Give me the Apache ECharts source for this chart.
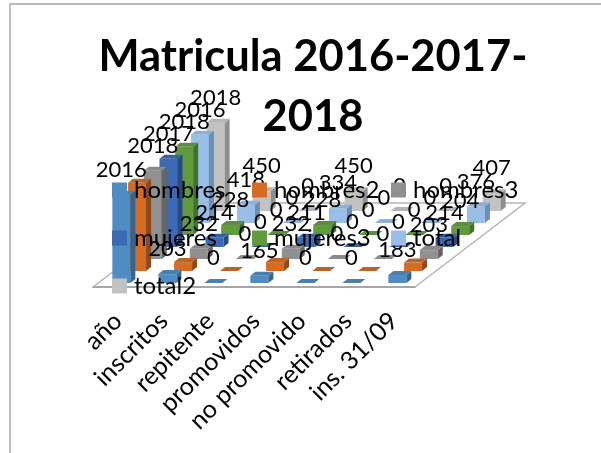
<!DOCTYPE html>
<html><head><meta charset="utf-8">
<script src="https://cdn.jsdelivr.net/npm/echarts@6/dist/echarts.min.js"></script>
<style>html,body{margin:0;padding:0;background:#fff}#c{width:601px;height:453px}</style></head>
<body><div id="c"></div>
<script>
const categories = ['año','inscritos','repitente','promovidos','no promovido','retirados','ins. 31/09'];
const hombres  = [2016,203,0,165,0,0,183];
const hombres2 = [2016,204,0,204,0,0,193];
const hombres3 = [2018,232,0,232,0,0,203];
const mujeres  = [2017,214,0,211,0,0,214];
const mujeres3 = [2018,228,0,228,0,0,204];
const total    = [2016,418,0,334,0,0,376];
const total2   = [2018,450,0,450,0,0,407];
const seriesNames = ['hombres','hombres2','hombres3','mujeres','mujeres3','total','total2'];
const seriesValues = [hombres,hombres2,hombres3,mujeres,mujeres3,total,total2];
const showLabels = [true,false,true,true,true,true,true];
const front = ['#4f8cc4','#d56c25','#909090','#3b69b4','#609c3d','#99bee8','#c2c2c2'];
const side  = ['#34648f','#8f4a1b','#666666','#284a80','#43702b','#6d8fb5','#8e8e8e'];
const top_  = ['#4a7fae','#b8652a','#8a8a8a','#3b619f','#5d8e3f','#8eb0d6','#b4b4b4'];
const legendSpots = [[112,178],[252,178],[391,178],[112,226],[252,226],[391,226],[112,274]];

const STEP_X = 110/7, STEP_Y = 84/7, W = 18, SX = 5, SY = 4;
function poly(points, fill, z2){ return {type:'polygon', z2, shape:{points}, style:{fill, stroke:null}}; }

const series = seriesNames.map((name,s)=>({
  type:'custom', name, coordinateSystem:'cartesian2d', clip:false, silent:true,
  itemStyle:{color:front[s]},
  encode:{x:0,y:1},
  data: seriesValues[s].map((v,i)=>[i,v]),
  renderItem(params,api){
    const i=api.value(0), v=api.value(1);
    const base=api.coord([i,0]), top=api.coord([i,v]);
    const h=base[1]-top[1];
    const dx=STEP_X*(s+.5), dy=STEP_Y*(s+.5);
    const cx=base[0]+dx-SX/2, by=base[1]-dy+SY/2;
    const l=cx-W/2, r=cx+W/2, ty=by-h;
    const z=10+(7-s)*2;
    const kids=[];
    if(h>1){
      kids.push(poly([[l,by],[r,by],[r,ty],[l,ty]],front[s],z));
      kids.push(poly([[r,by],[r+SX,by-SY],[r+SX,ty-SY],[r,ty]],side[s],z));
    }
    kids.push(poly([[l,ty],[r,ty],[r+SX,ty-SY],[l+SX,ty-SY]],top_[s],z));
    if(showLabels[s]) kids.push({type:'text',z2:100,style:{text:String(v),x:cx,y:ty-25,
      textAlign:'center',textVerticalAlign:'middle',font:'22px Lato',fill:'#000'}});
    return {type:'group',children:kids};
  }
}));

const floorSeries={type:'custom',name:'floor',silent:true,clip:false,data:[[0,0]],encode:{x:0,y:1},z:1,
  renderItem(params,api){
    const a=api.coord([0,0]), c=api.size([1,0])[0], dx=110, dy=84;
    const x0=a[0]-c/2, w=c*7;
    return {type:'polyline',shape:{points:[[x0,a[1]],[x0+dx,a[1]-dy],[x0+w+dx,a[1]-dy],[x0+w,a[1]]]},
      style:{stroke:'#b4b4b4',lineWidth:1.5,fill:null}};
  }};

const chart=echarts.init(document.getElementById('c'),null,{renderer:'canvas'});
chart.setOption({
  animation:false,
  backgroundColor:'#fff',
  title:{text:'Matricula 2016-2017-\n2018',left:313,top:27,textAlign:'center',padding:0,
    textStyle:{fontFamily:'Lato',fontWeight:'bold',fontSize:43.5,lineHeight:60,color:'#000'}},
  legend:seriesNames.map((n,s)=>({data:[n],left:legendSpots[s][0],top:legendSpots[s][1],padding:0,
    itemWidth:15,itemHeight:15,itemGap:0,icon:'rect',selectedMode:false,z:50,
    textStyle:{fontFamily:'Lato',fontSize:24,color:'#000',padding:[0,0,0,2]}})),
  grid:{left:93,top:112,width:322,height:175,containLabel:false},
  xAxis:{type:'category',data:categories,
    axisLine:{lineStyle:{color:'#a6a6a6',width:2}},axisTick:{show:false},splitLine:{show:false},
    axisLabel:{rotate:45,interval:0,margin:14,verticalAlign:'top',padding:[0,10,0,0],fontFamily:'Lato',fontSize:25,color:'#000'}},
  yAxis:{type:'value',min:0,max:4000,interval:1000,show:false,splitLine:{show:false}},
  graphic:[{type:'polyline',silent:true,shape:{points:[[10,453],[10,4],[601,4]]},style:{stroke:'#a6a6a6',lineWidth:1.5,fill:null}}],
  series:[floorSeries,...series]
});
</script></body></html>
